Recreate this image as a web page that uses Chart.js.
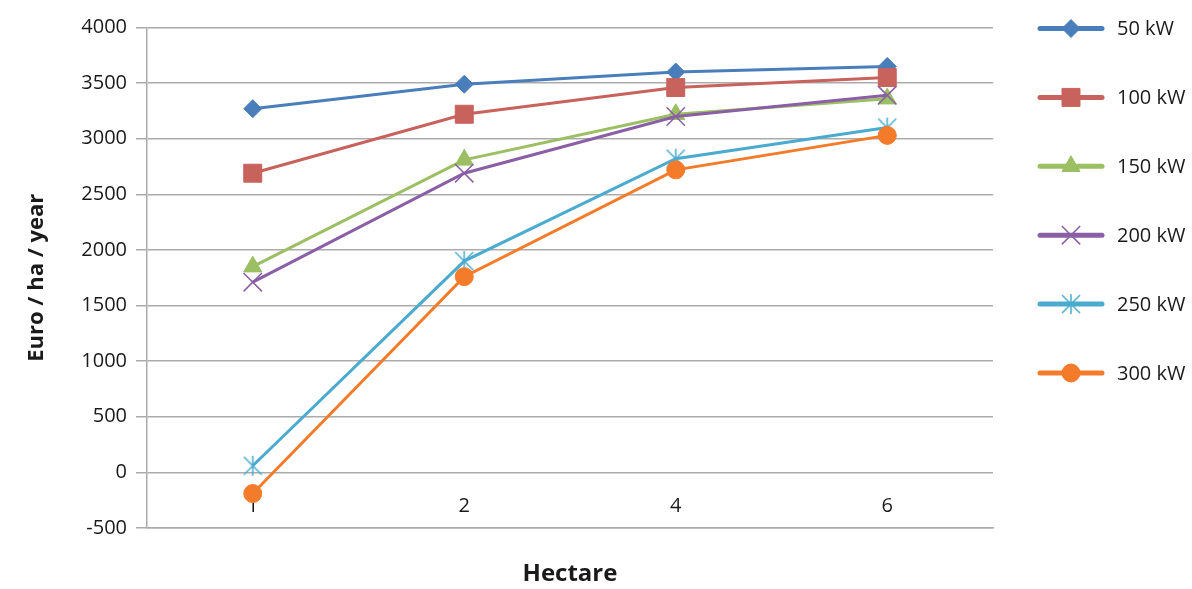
<!DOCTYPE html>
<html>
<head>
<meta charset="utf-8">
<script src="https://cdn.jsdelivr.net/npm/chart.js@4/dist/chart.umd.min.js"></script>
<style>
  html, body { margin: 0; padding: 0; background: #ffffff; }
  #wrap { width: 1192px; height: 589px; }
</style>
</head>
<body>
<div id="wrap"><canvas id="c" width="1192" height="589"></canvas></div>
<script>
// ---- data ----
const categories = ['1', '2', '4', '6'];
const seriesLabels = ['50 kW', '100 kW', '150 kW', '200 kW', '250 kW', '300 kW'];
const kw50  = [3270, 3490, 3600, 3650];
const kw100 = [2690, 3220, 3460, 3550];
const kw150 = [1850, 2810, 3220, 3360];
const kw200 = [1710, 2690, 3200, 3390];
const kw250 = [60, 1900, 2820, 3100];
const kw300 = [-190, 1760, 2720, 3030];
const yMin = -500, yMax = 4000, yStep = 500;
const xTitle = 'Hectare';
const yTitle = 'Euro / ha / year';

// ---- styles ----
const FONT = '"Open Sans", "DejaVu Sans", sans-serif';
const TEXT = '#1a1a1a';
const colors = ['#4A7EBB', '#C8625D', '#9BBF62', '#8A5FA6', '#4AABCF', '#F47B29'];
const GRID = '#ABABAB';

function starCanvas(color) {
  const c = document.createElement('canvas');
  c.width = 22; c.height = 22;
  const g = c.getContext('2d');
  g.strokeStyle = color; g.lineWidth = 1.5;
  g.beginPath();
  g.moveTo(2, 2); g.lineTo(20, 20);
  g.moveTo(20, 2); g.lineTo(2, 20);
  g.moveTo(11, 1); g.lineTo(11, 21);
  g.stroke();
  return c;
}

const values = [kw50, kw100, kw150, kw200, kw250, kw300];
const styles = [
  { pointStyle: 'rectRot', pointRadius: 9, pointBorderWidth: 1 },
  { pointStyle: 'rect', pointRadius: 12.7, pointBorderWidth: 1 },
  { pointStyle: 'triangle', pointRadius: 10.5, pointBorderWidth: 1 },
  { pointStyle: 'crossRot', pointRadius: 13, pointBorderWidth: 1.5 },
  { pointStyle: starCanvas(colors[4]), pointRadius: 11, pointBorderWidth: 1.5 },
  { pointStyle: 'circle', pointRadius: 9, pointBorderWidth: 1 }
];

const datasets = values.map((v, i) => ({
  label: seriesLabels[i],
  data: v,
  borderColor: colors[i],
  backgroundColor: colors[i],
  pointBackgroundColor: colors[i],
  pointBorderColor: colors[i],
  borderWidth: 3,
  tension: 0,
  order: values.length - 1 - i,
  pointStyle: styles[i].pointStyle,
  pointRadius: styles[i].pointRadius,
  pointHoverRadius: styles[i].pointRadius,
  pointBorderWidth: styles[i].pointBorderWidth
}));

// category labels sit just below the zero line (axis crosses at 0)
const crossLabels = {
  id: 'crossLabels',
  beforeDatasetsDraw(chart) {
    const xs = chart.scales.x, ys = chart.scales.y;
    const ctx = chart.ctx;
    const y = ys.getPixelForValue(0) + 34;
    ctx.save();
    ctx.fillStyle = TEXT;
    ctx.font = '20px ' + FONT;
    ctx.textAlign = 'center';
    ctx.textBaseline = 'middle';
    categories.forEach((lab, i) => {
      ctx.fillText(lab, xs.getPixelForTick(i), y);
    });
    ctx.restore();
  }
};

const legendPlugin = {
  id: 'sideLegend',
  afterDraw(chart) {
    const ctx = chart.ctx;
    const x0 = 1040, x1 = 1102, xm = 1071, tx = 1117;
    const y0 = 28.5, dy = 68.9;
    ctx.save();
    datasets.forEach((ds, i) => {
      const y = y0 + i * dy;
      ctx.strokeStyle = ds.borderColor;
      ctx.lineWidth = 5;
      ctx.lineCap = 'round';
      ctx.beginPath();
      ctx.moveTo(x0, y); ctx.lineTo(x1, y);
      ctx.stroke();
      ctx.lineCap = 'butt';
      ctx.fillStyle = ds.backgroundColor;
      ctx.strokeStyle = ds.borderColor;
      ctx.lineWidth = ds.pointBorderWidth;
      Chart.helpers.drawPoint(ctx, {
        pointStyle: ds.pointStyle, radius: ds.pointRadius, borderWidth: ds.pointBorderWidth, rotation: 0
      }, xm, y);
      ctx.fillStyle = TEXT;
      ctx.font = '20px ' + FONT;
      ctx.textAlign = 'left';
      ctx.textBaseline = 'middle';
      ctx.fillText(ds.label, tx, y + 1);
    });
    ctx.restore();
  }
};

new Chart(document.getElementById('c'), {
  type: 'line',
  data: { labels: categories, datasets },
  plugins: [crossLabels, legendPlugin],
  options: {
    responsive: false,
    animation: false,
    events: [],
    layout: { padding: { left: 0, right: 199, top: 27.5, bottom: 0 } },
    plugins: { legend: { display: false }, tooltip: { enabled: false } },
    scales: {
      x: {
        type: 'category',
        offset: true,
        grid: { display: false, drawTicks: false },
        border: { display: true, color: GRID, width: 1.5 },
        ticks: { display: false },
        title: { display: true, text: xTitle, color: TEXT, font: { family: FONT, size: 24, weight: 'bold' }, padding: { top: 0, bottom: 0 } },
        afterFit(s) { s.height = 61; }
      },
      y: {
        min: yMin, max: yMax,
        ticks: {
          stepSize: yStep, color: TEXT, font: { family: FONT, size: 20 }, padding: 9,
          callback: (v) => String(v)
        },
        grid: { color: GRID, lineWidth: 1.5, tickLength: 11, tickColor: GRID },
        border: { display: true, color: GRID, width: 1.5 },
        title: { display: true, text: yTitle, color: TEXT, font: { family: FONT, size: 22, weight: 'bold' }, padding: { top: 24, bottom: 0 } },
        afterFit(s) { s.width = 147; }
      }
    }
  }
});
</script>
</body>
</html>
